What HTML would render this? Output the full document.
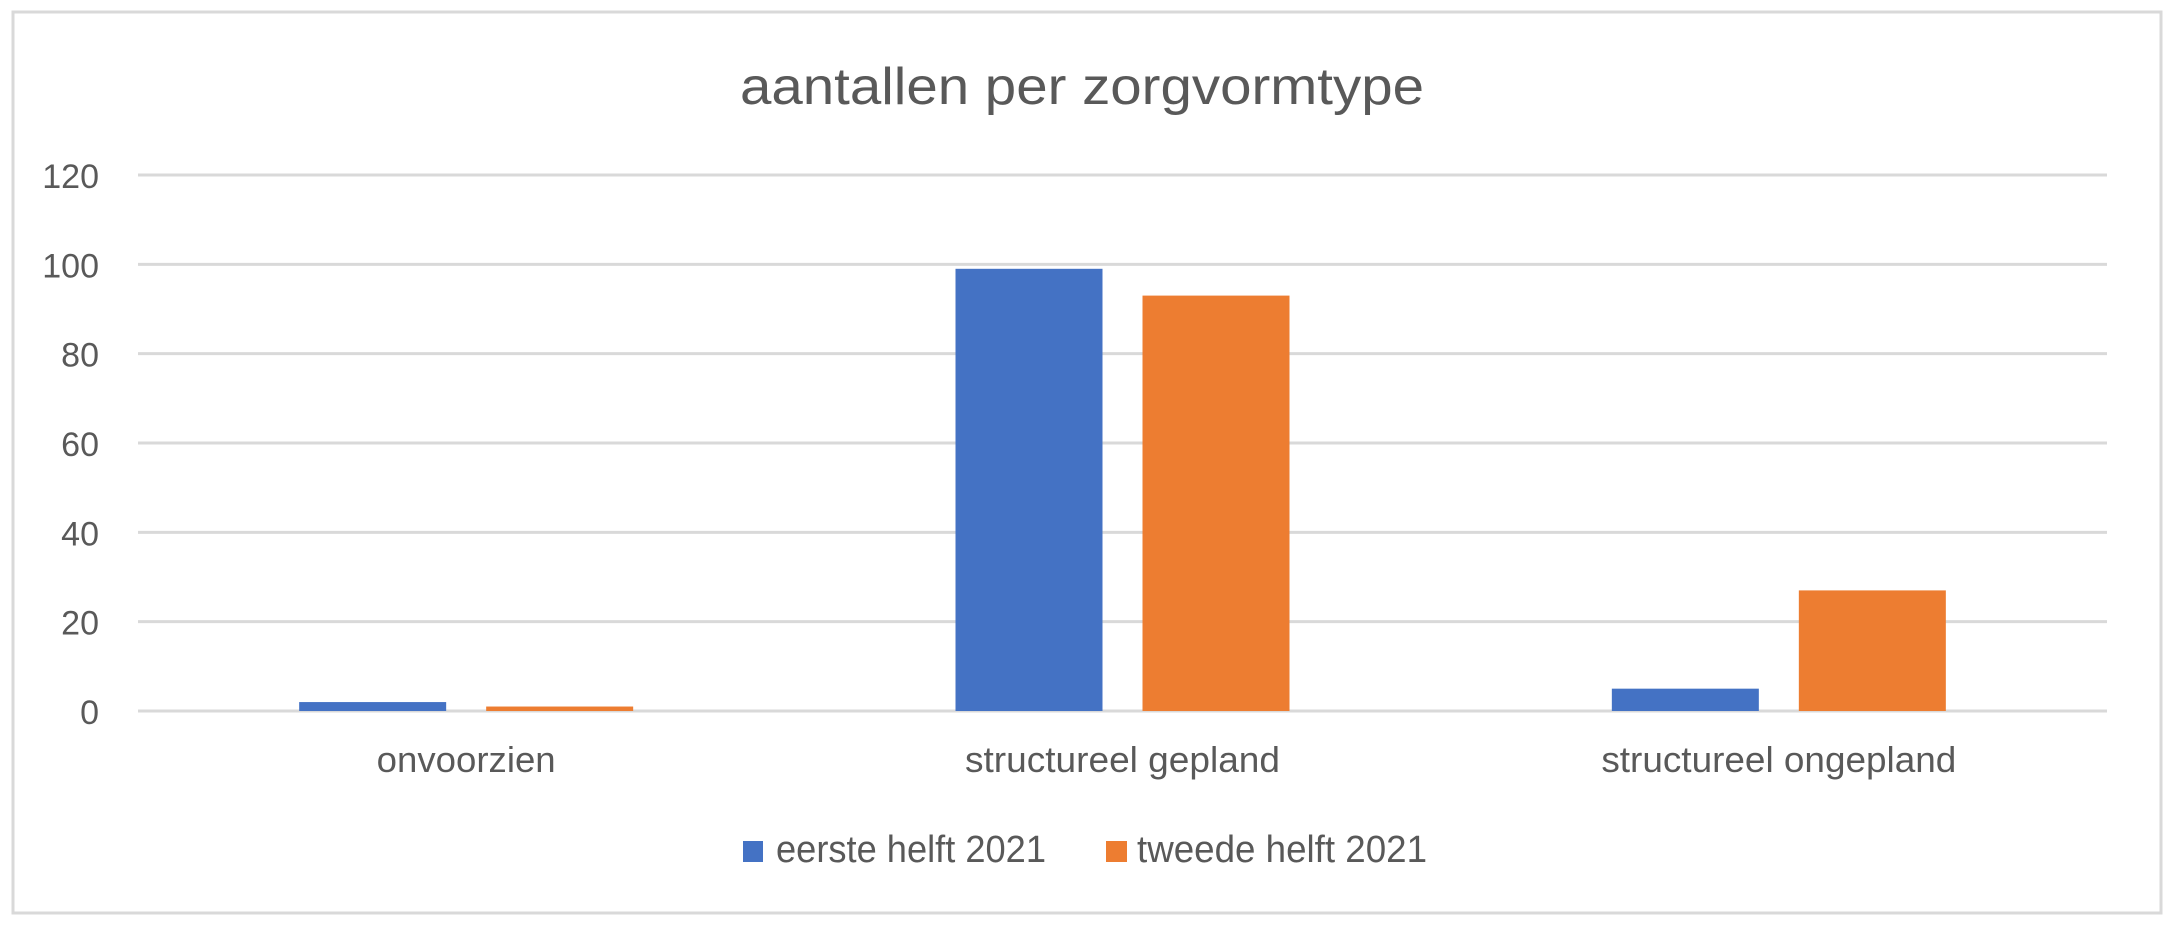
<!DOCTYPE html>
<html><head><meta charset="utf-8"><style>
html,body{margin:0;padding:0;background:#fff;}
svg{display:block;font-family:"Liberation Sans",sans-serif;}
</style></head><body>
<svg id="chart" width="2170" height="930" viewBox="0 0 2170 930">
<rect x="13" y="12" width="2148" height="901" fill="#fff" stroke="#d9d9d9" stroke-width="3"/>
<text x="1082" y="104" text-anchor="middle" font-size="52" fill="#595959" textLength="684" lengthAdjust="spacingAndGlyphs">aantallen per zorgvormtype</text>
<g id="grid"></g><g id="bars"></g><g id="labels"></g>
<g>
<rect x="743" y="841" width="20" height="21" fill="#4472c4"/>
<text x="776" y="862" font-size="38" fill="#595959" textLength="270" lengthAdjust="spacingAndGlyphs">eerste helft 2021</text>
<rect x="1106" y="841" width="21" height="21" fill="#ed7d31"/>
<text x="1137" y="862" font-size="38" fill="#595959" textLength="290" lengthAdjust="spacingAndGlyphs">tweede helft 2021</text>
</g>
</svg>
<script>
const categories = ["onvoorzien", "structureel gepland", "structureel ongepland"];
const eersteHelft = [2, 99, 5];
const tweedeHelft = [1, 93, 27];
const yTicks = [0, 20, 40, 60, 80, 100, 120];
const catLabelWidths = [179, 315, 355];

const NS = "http://www.w3.org/2000/svg";
const plotLeft = 138, plotRight = 2107, y0 = 711, yMaxPx = 175, yMax = 120;
const yScale = v => y0 - (v / yMax) * (y0 - yMaxPx);
const bandW = (plotRight - plotLeft) / categories.length;
const xCenter = i => plotLeft + bandW * (i + 0.5);
const barW = 147, gap = 40;

function mk(tag, attrs, parent) {
  const el = document.createElementNS(NS, tag);
  for (const k in attrs) el.setAttribute(k, attrs[k]);
  parent.appendChild(el);
  return el;
}
const grid = document.getElementById("grid");
const bars = document.getElementById("bars");
const labels = document.getElementById("labels");

yTicks.forEach(t => {
  const y = yScale(t);
  const l = mk("line", {x1: plotLeft, x2: plotRight, y1: y, y2: y, stroke: "#d9d9d9", "stroke-width": 3}, grid);
  
  
  const tx = mk("text", {x: 99, y: y + 13, "text-anchor": "end", "font-size": 34, fill: "#595959"}, labels);
  tx.textContent = t;
  
  
});

categories.forEach((c, i) => {
  const cx = xCenter(i);
  const b1 = mk("rect", {x: cx - gap / 2 - barW, y: yScale(eersteHelft[i]), width: barW, height: y0 - yScale(eersteHelft[i]), fill: "#4472c4"}, bars);
  
  
  const b2 = mk("rect", {x: cx + gap / 2, y: yScale(tweedeHelft[i]), width: barW, height: y0 - yScale(tweedeHelft[i]), fill: "#ed7d31"}, bars);
  
  
  const t = mk("text", {x: cx, y: 772, "text-anchor": "middle", "font-size": 36, fill: "#595959", textLength: catLabelWidths[i], lengthAdjust: "spacingAndGlyphs"}, labels);
  t.textContent = c;
  
  
});
</script>
</body></html>
